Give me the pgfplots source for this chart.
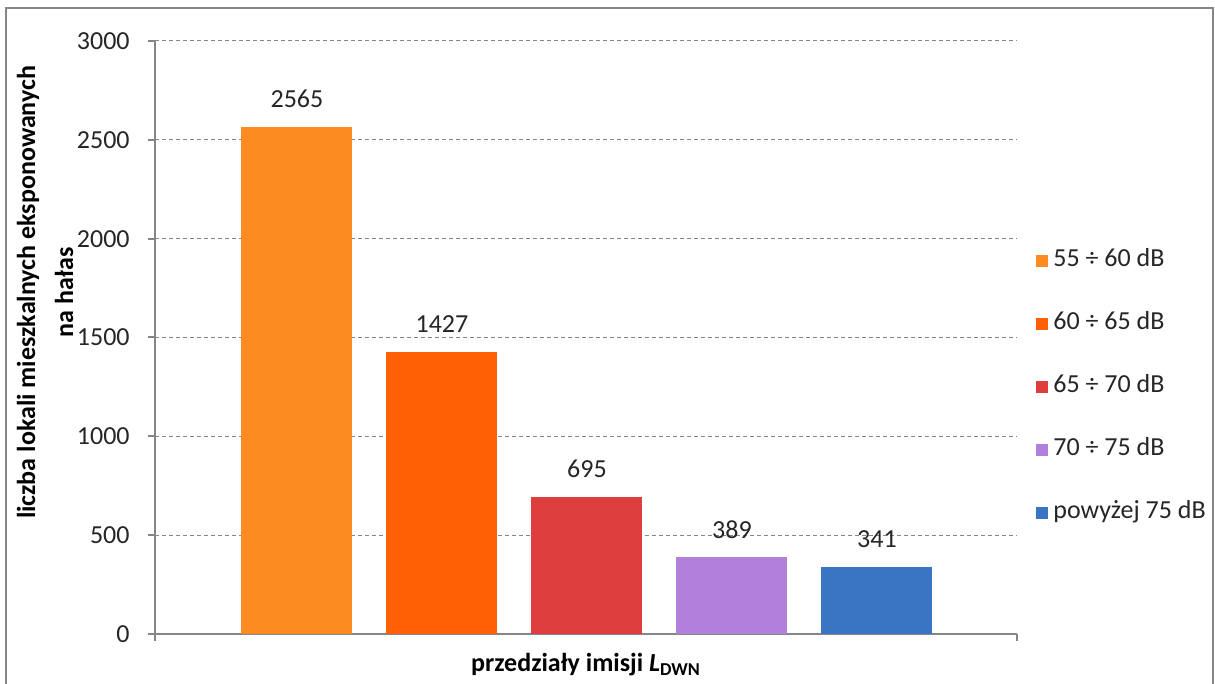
\documentclass[border=0pt]{standalone}
\usepackage{fontspec}
\setmainfont{Carlito}
\usepackage{pgfplots}
\pgfplotsset{compat=1.18}
\definecolor{c1}{HTML}{FC8B21}
\definecolor{c2}{HTML}{FF5F05}
\definecolor{c3}{HTML}{DE3E3E}
\definecolor{c4}{HTML}{B080DA}
\definecolor{c5}{HTML}{3A75C4}
\definecolor{axgray}{HTML}{868686}
\definecolor{txt}{HTML}{262626}
\pgfplotsset{sqlegend/.style={legend image code/.code={\fill[##1,draw=none] (0pt,-3pt) rectangle (6pt,3pt);}}}
\begin{document}
\begin{tikzpicture}
\useasboundingbox (-77.5pt,-25pt) rectangle (530pt,317pt);
\fill[white] (-77.5pt,-25pt) rectangle (530pt,317pt);
\draw[axgray, line width=1pt] (-74.5pt,-40pt) -- (-74.5pt,313pt) -- (529pt,313pt) -- (529pt,-40pt);
\begin{axis}[
  at={(0,0)}, anchor=south west,
  scale only axis, width=431pt, height=296.5pt,
  xmin=-0.979, xmax=4.966, ymin=0, ymax=3000,
  ytick={0,500,...,3000},
  xtick={-0.979,4.966}, xticklabels={},
  axis x line=bottom, axis y line=left,
  axis line style={axgray, line width=1pt, -},
  tick align=outside, major tick length=3.5pt,
  tick style={axgray, line width=1pt},
  ymajorgrids, grid style={axgray, line width=0.5pt, dash pattern=on 2pt off 1.5pt},
  /pgf/number format/1000 sep={},
  /pgf/number format/assume math mode=true,
  yticklabel style={font=\fontsize{13}{15}\selectfont, text=txt, inner sep=0pt, anchor=east, xshift=-9pt},
  every axis plot/.append style={ybar, bar width=55.5pt, bar shift=0pt, draw=none, sqlegend},
  nodes near coords,
  every node near coord/.append style={anchor=base, yshift=9.5pt, inner sep=0pt, font=\fontsize{13}{15}\selectfont, text=txt},
  xlabel={przedziały imisji \textit{L}\textsubscript{DWN}},
  xlabel style={at={(axis description cs:0.5,0)}, anchor=base, yshift=-19pt, font=\fontsize{13}{15}\selectfont\bfseries, text=black},
  ylabel={liczba lokali mieszkalnych eksponowanych\\na hałas},
  ylabel style={at={(axis description cs:-0.1276,0.576)}, anchor=center, align=center, font=\fontsize{13}{19}\selectfont\bfseries, text=black},
  legend style={draw=none, fill=none, at={(1.022,0.4157)}, anchor=west, inner sep=0pt,
    row sep=19.5pt, font=\fontsize{13}{15}\selectfont,
    nodes={inner sep=0pt, text height=8.5pt, text depth=3.5pt, text=txt},
    /tikz/every odd column/.append style={column sep=2.5pt}},
  legend cell align=left,
]
\addplot[fill=c1] coordinates {(0,2565)};
\addplot[fill=c2] coordinates {(1,1427)};
\addplot[fill=c3] coordinates {(2,695)};
\addplot[fill=c4] coordinates {(3,389)};
\addplot[fill=c5] coordinates {(4,341)};
\legend{55 ÷ 60 dB, 60 ÷ 65 dB, 65 ÷ 70 dB, 70 ÷ 75 dB, powyżej 75 dB}
\end{axis}
\end{tikzpicture}
\end{document}
